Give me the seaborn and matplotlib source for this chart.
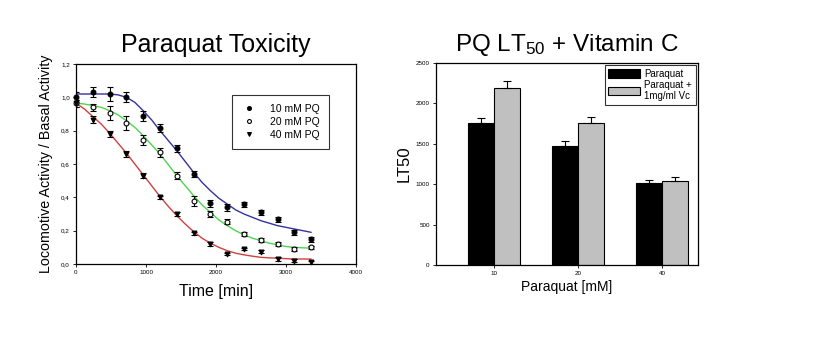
"""Paraquat toxicity time course + LT50 bar chart with vitamin C."""
import matplotlib
matplotlib.use("Agg")
import matplotlib.pyplot as plt
from matplotlib.lines import Line2D
from matplotlib.patches import Patch
from matplotlib.ticker import FuncFormatter
import numpy as np
import pandas as pd
import seaborn as sns

# ---- data: time course ----
times = [0, 240, 480, 720, 960, 1200, 1440, 1680, 1920, 2160, 2400, 2640, 2880, 3120, 3360]
act_10 = [1.00, 1.035, 1.02, 1.00, 0.89, 0.815, 0.695, 0.54, 0.365, 0.34, 0.36, 0.31, 0.27, 0.19, 0.15]
act_20 = [0.965, 0.94, 0.905, 0.845, 0.745, 0.67, 0.53, 0.38, 0.30, 0.255, 0.18, 0.145, 0.12, 0.09, 0.10]
act_40 = [0.965, 0.865, 0.78, 0.66, 0.53, 0.40, 0.30, 0.185, 0.12, 0.06, 0.09, 0.075, 0.03, 0.02, 0.01]
err_10 = [0.03, 0.03, 0.04, 0.03, 0.03, 0.025, 0.02, 0.02, 0.02, 0.02, 0.015, 0.015, 0.015, 0.015, 0.015]
err_20 = [0.02, 0.02, 0.04, 0.04, 0.03, 0.025, 0.02, 0.03, 0.02, 0.015, 0.01, 0.01, 0.01, 0.01, 0.01]
err_40 = [0.02, 0.02, 0.02, 0.02, 0.015, 0.01, 0.01, 0.01, 0.01, 0.005, 0.005, 0.01, 0.01, 0.01, 0.01]

# fitted curves, every 120 min
fit_times = [0, 120, 240, 360, 480, 600, 720, 840, 960, 1080, 1200, 1320, 1440, 1560, 1680,
    1800, 1920, 2040, 2160, 2280, 2400, 2520, 2640, 2760, 2880, 3000, 3120, 3240, 3360]
fit_10 = [1.02, 1.02, 1.02, 1.02, 1.02, 1.015, 1.00, 0.97, 0.92, 0.865, 0.80, 0.74, 0.68, 0.615,
    0.55, 0.49, 0.44, 0.395, 0.36, 0.325, 0.30, 0.28, 0.26, 0.245, 0.23, 0.22, 0.21, 0.20, 0.19]
fit_20 = [0.965, 0.96, 0.95, 0.94, 0.92, 0.895, 0.86, 0.82, 0.77, 0.715, 0.66, 0.595, 0.53, 0.47,
    0.41, 0.355, 0.31, 0.265, 0.23, 0.20, 0.175, 0.155, 0.14, 0.125, 0.115, 0.105, 0.10, 0.097, 0.095]
fit_40 = [0.965, 0.93, 0.885, 0.84, 0.785, 0.725, 0.665, 0.60, 0.535, 0.47, 0.405, 0.345, 0.29, 0.24,
    0.195, 0.155, 0.125, 0.10, 0.08, 0.065, 0.055, 0.047, 0.04, 0.037, 0.035, 0.032, 0.03, 0.03, 0.03]
series = ["10 mM PQ", "20 mM PQ", "40 mM PQ"]

# ---- data: LT50 bars ----
pq_conc = ["10", "20", "40"]
lt50_pq = [1760, 1476, 1011]
lt50_pq_err = [60, 55, 35]
lt50_vc = [2194, 1761, 1043]
lt50_vc_err = [80, 75, 50]
treatments = ["Paraquat", "Paraquat +\n1mg/ml Vc"]

sns.set_style("white")
plt.rcParams["font.family"] = ["Liberation Sans", "DejaVu Sans"]
plt.rcParams["mathtext.default"] = "regular"
plt.rcParams["text.color"] = "black"
plt.rcParams["axes.labelcolor"] = "black"

fig = plt.figure(figsize=(8.36, 3.52), dpi=100)
ax1 = fig.add_axes([76 / 836, 1 - 264 / 352, 280 / 836, 200 / 352])
ax2 = fig.add_axes([436 / 836, 1 - 265 / 352, 262 / 836, 202 / 352])

line_colors = ["#33339e", "#4fd44f", "#cf4040"]
markers = ["o", "o", "v"]
faces = ["black", "white", "black"]

fit_df = pd.DataFrame({
    "time": fit_times * 3,
    "value": fit_10 + fit_20 + fit_40,
    "series": np.repeat(series, len(fit_times)),
})
sns.lineplot(data=fit_df, x="time", y="value", hue="series", hue_order=series,
    palette=line_colors, linewidth=1, legend=False, ax=ax1)

for vals, errs, m, fc in zip([act_10, act_20, act_40], [err_10, err_20, err_40], markers, faces):
    ax1.errorbar(times, vals, yerr=errs, fmt="none", ecolor="black",
        elinewidth=0.8, capsize=2.5, capthick=0.8, zorder=3)
    ax1.plot(times, vals, m, markerfacecolor=fc, markeredgecolor="black",
        markersize=3.5, markeredgewidth=0.8, linestyle="none", zorder=4, clip_on=False)

ax1.set_xlim(0, 4000)
ax1.set_ylim(0, 1.2)
ax1.set_xticks([0, 1000, 2000, 3000, 4000])
ax1.set_yticks([0, 0.2, 0.4, 0.6, 0.8, 1.0, 1.2])
ax1.yaxis.set_major_formatter(FuncFormatter(lambda v, p: f"{v:.1f}".replace(".", ",")))
ax1.set_title("Paraquat Toxicity", fontsize=18, pad=8.5)
ax1.set_xlabel("Time [min]", fontsize=11.5, labelpad=6)
ax1.set_ylabel("Locomotive Activity / Basal Activity", fontsize=10.3, labelpad=6)

handles = [Line2D([], [], marker=m, linestyle="none", markerfacecolor=fc,
    markeredgecolor="black", markersize=2.8, markeredgewidth=0.8)
    for m, fc in zip(markers, faces)]
leg1 = ax1.legend(handles, series, loc="upper left", bbox_to_anchor=(0.557, 0.845),
    fontsize=7.5, frameon=True, fancybox=False, edgecolor="black",
    handletextpad=1.3, borderpad=0.85, labelspacing=0.3, handlelength=1.5,
    borderaxespad=0)
leg1.get_frame().set_linewidth(0.8)

# ---- bars ----
bar_df = pd.DataFrame({
    "conc": pq_conc * 2,
    "lt50": lt50_pq + lt50_vc,
    "treat": np.repeat(treatments, len(pq_conc)),
})
sns.barplot(data=bar_df, x="conc", y="lt50", hue="treat", hue_order=treatments,
    palette=["black", "#c0c0c0"], edgecolor="black", linewidth=0.8,
    width=0.62, errorbar=None, ax=ax2, legend=False)

bar_w = 0.31
xs = np.arange(len(pq_conc))
ax2.errorbar(xs - bar_w / 2, lt50_pq, yerr=[np.zeros(3), lt50_pq_err], fmt="none",
    ecolor="black", elinewidth=0.8, capsize=3, capthick=0.8)
ax2.errorbar(xs + bar_w / 2, lt50_vc, yerr=[np.zeros(3), lt50_vc_err], fmt="none",
    ecolor="black", elinewidth=0.8, capsize=3, capthick=0.8)

ax2.set_xlim(-0.69, 2.43)
ax2.set_ylim(0, 2500)
ax2.set_yticks([0, 500, 1000, 1500, 2000, 2500])
ax2.set_title("PQ LT$_{50}$ + Vitamin C", fontsize=17.5, pad=8.5)
ax2.set_xlabel("Paraquat [mM]", fontsize=10, labelpad=3)
ax2.set_ylabel("LT50", fontsize=12, labelpad=3)

patches = [Patch(facecolor="black", edgecolor="black", linewidth=0.8),
    Patch(facecolor="#c0c0c0", edgecolor="black", linewidth=0.8)]
leg2 = ax2.legend(patches, treatments, loc="upper right", bbox_to_anchor=(1.0, 1.0),
    fontsize=7, frameon=True, fancybox=False, edgecolor="black",
    handlelength=3.2, handleheight=0.9, handletextpad=0.5, borderpad=0.4,
    labelspacing=0.1, borderaxespad=0.2)
leg2.get_frame().set_linewidth(0.8)

for ax in (ax1, ax2):
    for s in ax.spines.values():
        s.set_color("black")
        s.set_linewidth(0.9)
    ax.tick_params(axis="both", labelsize=4.5, direction="out", length=2.5,
        width=0.6, colors="black", pad=2, bottom=True, left=True)

fig.savefig("out.png", dpi=100)
